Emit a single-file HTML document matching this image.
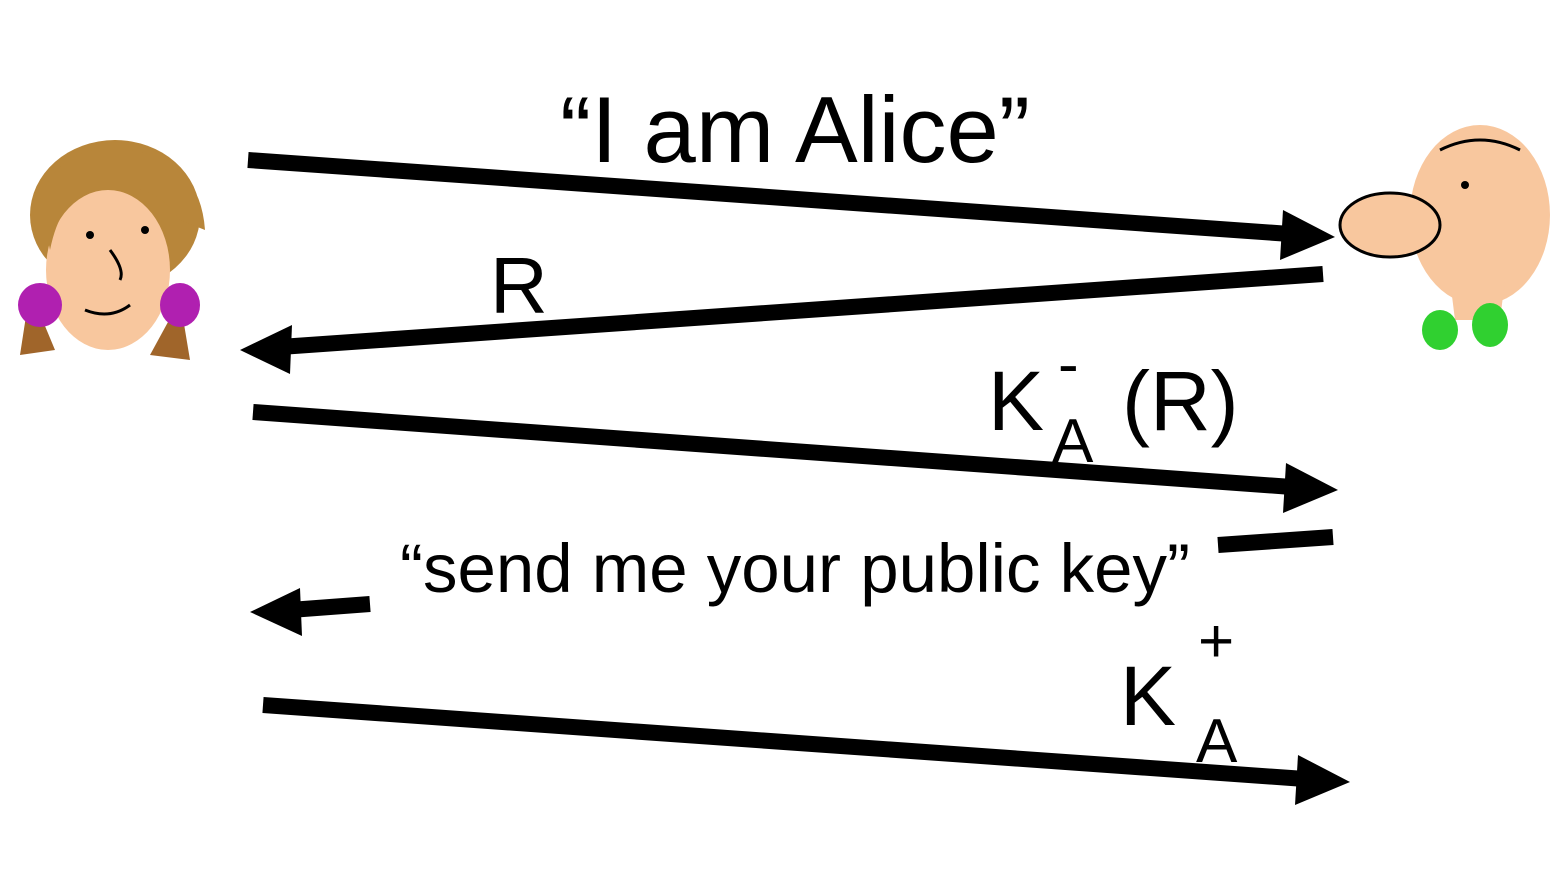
<!DOCTYPE html>
<html><head><meta charset="utf-8"><style>
html,body{margin:0;padding:0;background:#fff;}
svg{display:block}
text{font-family:"Liberation Sans",Arial,sans-serif;fill:#000}
</style></head><body>
<svg width="1567" height="873" viewBox="0 0 1567 873" xmlns="http://www.w3.org/2000/svg">
<!-- Alice -->
<g>
<ellipse cx="115" cy="215" rx="85" ry="75" fill="#b8863a"/>
<ellipse cx="108" cy="270" rx="62" ry="80" fill="#f8c79e"/>
<path d="M40 200 Q60 140 130 150 Q200 160 205 230 L180 220 Q150 175 90 190 Q60 200 50 250 Z" fill="#b8863a"/>
<path d="M30 290 L20 355 L55 350 Z" fill="#a0652a"/>
<path d="M180 300 L190 360 L150 355 Z" fill="#a0652a"/>
<ellipse cx="40" cy="305" rx="22" ry="22" fill="#b020b0"/>
<ellipse cx="180" cy="305" rx="20" ry="22" fill="#b020b0"/>
<path d="M110 250 Q125 270 120 280" stroke="#000" stroke-width="3" fill="none"/>
<path d="M85 310 Q110 320 130 305" stroke="#000" stroke-width="3" fill="none"/>
<circle cx="90" cy="235" r="4"/><circle cx="145" cy="230" r="4"/>
</g>
<!-- Bob -->
<g>
<ellipse cx="1480" cy="215" rx="70" ry="90" fill="#f8c79e"/>
<ellipse cx="1390" cy="225" rx="50" ry="32" fill="#f8c79e" stroke="#000" stroke-width="3"/>
<path d="M1450 280 L1455 320 L1500 320 L1505 280 Z" fill="#f8c79e"/>
<ellipse cx="1440" cy="330" rx="18" ry="20" fill="#30d030"/>
<ellipse cx="1490" cy="325" rx="18" ry="22" fill="#30d030"/>
<circle cx="1465" cy="185" r="4"/>
<path d="M1440 150 Q1480 130 1520 150" stroke="#000" stroke-width="3" fill="none"/>
</g>
<!-- arrows -->
<g stroke="#000" stroke-width="16" stroke-linecap="butt">
<line x1="248" y1="160" x2="1290" y2="234"/>
<line x1="1323" y1="274" x2="280" y2="347"/>
<line x1="253" y1="412" x2="1292" y2="487"/>
<line x1="1218" y1="545" x2="1333" y2="537"/>
<line x1="370" y1="604" x2="290" y2="610"/>
<line x1="263" y1="705" x2="1305" y2="779"/>
</g>
<g fill="#000">
<polygon points="1335,237 1283,210 1280,260"/>
<polygon points="240,350 292,325 290,374"/>
<polygon points="1338,490 1286,463 1283,513"/>
<polygon points="250,612 300,588 302,636"/>
<polygon points="1350,782 1298,755 1295,805"/>
</g>
<text x="560" y="162" font-size="94">“I am Alice”</text>
<text x="490" y="313" font-size="80">R</text>
<text x="988" y="430" font-size="84">K</text>
<text x="1058" y="385" font-size="62">-</text>
<text x="1052" y="462" font-size="62">A</text>
<text x="1122" y="430" font-size="84">(R)</text>
<text x="400" y="592" font-size="69">“send me your public key”</text>
<text x="1120" y="725" font-size="84">K</text>
<text x="1198" y="662" font-size="62">+</text>
<text x="1196" y="762" font-size="62">A</text>
</svg>
</body></html>
